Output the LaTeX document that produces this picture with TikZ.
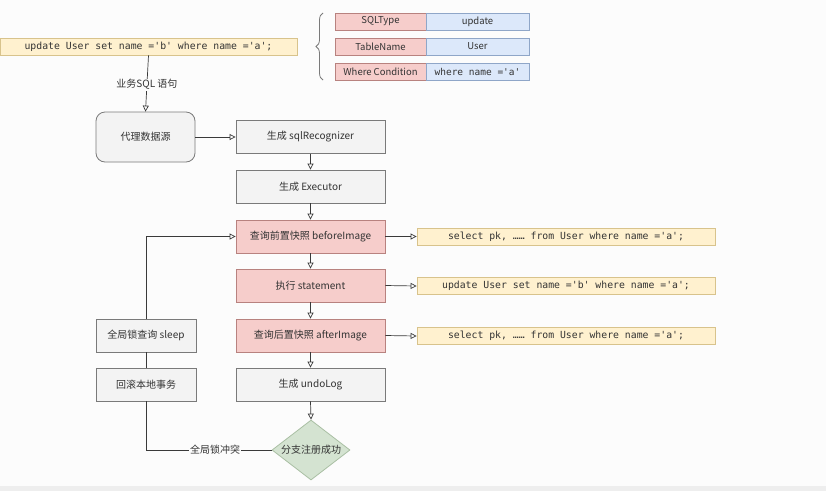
\documentclass[tikz,border=0pt]{standalone}
\usepackage{fontspec}
\setmainfont{Noto Sans CJK SC}
\newfontfamily\codefont{DejaVu Sans Mono}
\usetikzlibrary{arrows.meta,shapes.geometric,decorations.pathreplacing}

\definecolor{bgcol}{HTML}{FCFCFC}
\definecolor{stripcol}{HTML}{EEEEEE}
\definecolor{txt}{HTML}{333333}
\definecolor{linecol}{HTML}{3A3A3A}
\definecolor{grayfill}{HTML}{F3F3F3}
\definecolor{grayline}{HTML}{7A7A7A}
\definecolor{pinkfill}{HTML}{F6CDCB}
\definecolor{pinkline}{HTML}{B8827F}
\definecolor{yellowfill}{HTML}{FFF1CF}
\definecolor{yellowline}{HTML}{D8C38C}
\definecolor{bluefill}{HTML}{DCE8FA}
\definecolor{blueline}{HTML}{8FA6C8}
\definecolor{greenfill}{HTML}{D4E3D1}
\definecolor{greenline}{HTML}{A9BFA3}

\tikzset{
  base/.style={draw, line width=0.8pt, text=txt, inner sep=0pt, anchor=center,
    font=\fontsize{10}{12}\selectfont},
  graybox/.style={base, fill=grayfill, draw=grayline, minimum width=149pt, minimum height=33pt},
  pinkbox/.style={graybox, fill=pinkfill, draw=pinkline},
  sidebox/.style={graybox, minimum width=100pt},
  codebox/.style={base, fill=yellowfill, draw=yellowline, minimum height=17pt,
    minimum width=298pt, font=\codefont\fontsize{9.8}{12}\selectfont},
  keycell/.style={base, fill=pinkfill, draw=pinkline, minimum width=91pt, minimum height=17pt,
    font=\fontsize{9.5}{11}\selectfont},
  valcell/.style={base, fill=bluefill, draw=blueline, minimum width=103pt, minimum height=17pt,
    font=\fontsize{9.5}{11}\selectfont},
  flow/.style={draw=linecol, line width=0.7pt, -{Triangle[open,length=6pt,width=6pt]}},
  wire/.style={draw=linecol, line width=0.7pt},
  edgelabel/.style={fill=bgcol, text=txt, inner sep=1pt, font=\fontsize{10}{12}\selectfont}
}

\begin{document}
\begin{tikzpicture}[x=1pt,y=-1pt]
  % canvas and bottom strip
  \fill[bgcol] (0,0) rectangle (826,491);
  \fill[stripcol] (0,486) rectangle (826,491);
  \useasboundingbox (0,0) rectangle (826,491);

  % incoming business SQL
  \node[codebox, minimum width=297pt] (sql) at (148.5,46.5) {update User set name ='b' where name ='a';};

  % parsed parts of the statement
  \node[keycell] (k1) at (380.5,21.5) {SQLType};
  \node[valcell] (v1) at (477.5,21.5) {update};
  \node[keycell] (k2) at (380.5,46.5) {TableName};
  \node[valcell] (v2) at (477.5,46.5) {User};
  \node[keycell] (k3) at (380.5,71.5) {Where Condition};
  \node[valcell, font=\codefont\fontsize{9.5}{11}\selectfont] (v3) at (477.5,71.5) {where name ='a'};
  \draw[draw=grayline, line width=0.8pt, decorate, decoration={brace, amplitude=7pt}]
    (323,80) -- (323,13);

  % main flow
  \node[base, fill=grayfill, draw=grayline, rounded corners=9pt,
        minimum width=99pt, minimum height=50pt] (proxy) at (145.5,137) {代理数据源};
  \node[graybox] (recog) at (310.5,137) {生成 sqlRecognizer};
  \node[graybox] (exec) at (310.5,186.5) {生成 Executor};
  \node[pinkbox] (before) at (310.5,236.5) {查询前置快照 beforeImage};
  \node[pinkbox] (stmt) at (310.5,285.5) {执行 statement};
  \node[pinkbox] (after) at (310.5,335.5) {查询后置快照 afterImage};
  \node[graybox] (undo) at (310.5,384.5) {生成 undoLog};
  \node[base, shape=diamond, fill=greenfill, draw=greenline,
        minimum width=78pt, minimum height=60pt] (reg) at (311,450)
        {\makebox[0pt]{分支注册成功}};

  % SQL issued at each step
  \node[codebox] (sel1) at (566,236.5) {select pk, …… from User where name ='a';};
  \node[codebox] (upd) at (566,286) {update User set name ='b' where name ='a';};
  \node[codebox] (sel2) at (566,336) {select pk, …… from User where name ='a';};

  % retry branch
  \node[sidebox] (sleep) at (146,335.5) {全局锁查询 sleep};
  \node[sidebox] (rollback) at (146,384.5) {回滚本地事务};

  % connectors
  \draw[flow] (sql.south) -- node[edgelabel, pos=0.52] {业务SQL 语句} (proxy.north);
  \draw[flow] (proxy.east) -- (recog.west);
  \draw[flow] (recog) -- (exec);
  \draw[flow] (exec) -- (before);
  \draw[flow] (before) -- (stmt);
  \draw[flow] (stmt) -- (after);
  \draw[flow] (after) -- (undo);
  \draw[flow] (undo.south) -- (reg.north);
  \draw[flow] (before.east) -- (sel1.west);
  \draw[flow] (stmt.east) -- (upd.west);
  \draw[flow] (after.east) -- (sel2.west);

  \draw[wire] (reg.west) -- node[edgelabel, pos=0.45] {全局锁冲突} (rollback.south |- reg.west) -- (rollback.south);
  \draw[wire] (rollback.north) -- (sleep.south);
  \draw[flow] (sleep.north) |- (before.west);
\end{tikzpicture}
\end{document}
